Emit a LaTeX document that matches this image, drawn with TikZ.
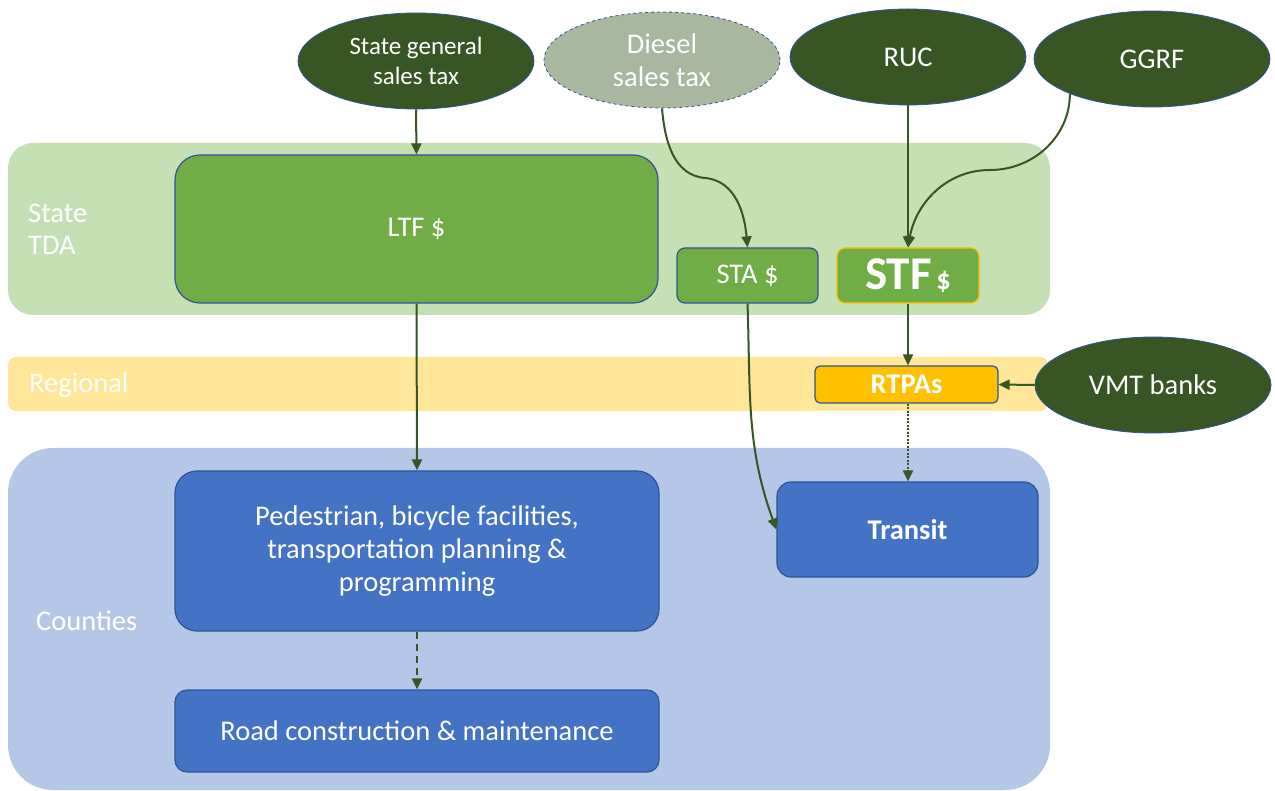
\documentclass[tikz,border=0pt]{standalone}
\usepackage{fontspec}
\setmainfont{Carlito}
\usetikzlibrary{shapes.geometric,arrows.meta}
\definecolor{bandgreen}{HTML}{C5E0B4}
\definecolor{bandyellow}{HTML}{FFE699}
\definecolor{bandblue}{HTML}{B4C7E7}
\definecolor{boxgreen}{HTML}{70AD47}
\definecolor{boxblue}{HTML}{4472C4}
\definecolor{rtpa}{HTML}{FFC000}
\definecolor{dgreen}{HTML}{375623}
\definecolor{bord}{HTML}{2F5597}
\definecolor{diesel}{HTML}{A9B79F}
\tikzset{
  band/.style={fill=#1, draw=none},
  bandlbl/.style={text=white, anchor=west, align=left, inner sep=0pt, font=\fontsize{28.5}{32}\selectfont},
  box/.style={draw=bord, line width=1.2pt, text=white, align=center, inner sep=0pt, font=\fontsize{28.5}{33}\selectfont},
  src/.style={ellipse, fill=dgreen, draw=bord, line width=0.8pt, text=white, align=center, inner sep=0pt,
              minimum width=236pt, minimum height=96pt, font=\fontsize{28.5}{33}\selectfont},
  arr/.style={-{Triangle[length=11pt,width=10pt]}, draw=dgreen, line width=2pt},
}
\begin{document}
\begin{tikzpicture}[x=1pt,y=-1pt]
\useasboundingbox (0,0) rectangle (1275,791);
% bands
\path[band=bandgreen, rounded corners=25pt] (8,143) rectangle (1050,315);
\path[band=bandyellow, rounded corners=8pt] (8,357) rectangle (1048,411);
\path[band=bandblue, rounded corners=45pt] (8,448) rectangle (1050,790);
\node[bandlbl] (lstate) at (28,229) {State\\TDA};
\node[bandlbl] (lreg) at (29,385) {Regional};
\node[bandlbl] (lcty) at (36,621) {Counties};
% boxes
\node[box, fill=boxgreen, rounded corners=25pt, minimum width=483pt, minimum height=148pt] (ltf) at (416.5,229) {LTF \$};
\node[box, fill=boxgreen, rounded corners=8pt, minimum width=141pt, minimum height=55pt] (sta) at (747.5,275.5) {STA \$};
\node[box, fill=boxgreen, draw=rtpa, rounded corners=8pt, minimum width=142pt, minimum height=55pt] (stf) at (908,275.5) {\textbf{\fontsize{47}{50}\selectfont STF}\,\textbf{\$}};
\node[box, fill=rtpa, rounded corners=5pt, minimum width=183pt, minimum height=37pt] (rtpas) at (906.5,384.5) {\textbf{RTPAs}};
\node[box, fill=boxblue, rounded corners=14pt, minimum width=261pt, minimum height=95pt] (transit) at (907.5,529.5) {\textbf{Transit}};
\node[box, fill=boxblue, rounded corners=22pt, minimum width=484pt, minimum height=160pt] (ped) at (417,551) {Pedestrian, bicycle facilities,\\transportation planning \&\\programming};
\node[box, fill=boxblue, rounded corners=12pt, minimum width=484pt, minimum height=82pt] (road) at (417,731) {Road construction \& maintenance};
% sources
\node[src, font=\fontsize{25}{30}\selectfont] (sgst) at (416,61) {State general\\sales tax};
\node[src, fill=diesel, dashed] (dst) at (662,60) {Diesel\\sales tax};
\node[src] (ruc) at (908,57) {RUC};
\node[src] (ggrf) at (1152,59) {GGRF};
\node[src] (vmt) at (1153,385) {VMT banks};
% connectors
\draw[arr] (sgst.south) -- (ltf.north);
\draw[arr] (ltf.south) -- (ped.north);
\draw[arr, dash pattern=on 7pt off 5pt] (ped.south) -- (road.north);
\draw[arr] (dst.south) to[out=-85,in=175] (705,178) to[out=-5,in=95] (sta.north);
\draw[arr] (ruc.south) -- (stf.north);
\draw[arr] (ggrf.-157) to[out=-90,in=0] (990,170) to[out=180,in=80] (stf.north);
\draw[arr] (sta.south) to[out=-88,in=110] (transit.west);
\draw[arr] (stf.south) -- (stf.south |- rtpas.north);
\draw[arr] (vmt.west) -- (rtpas.east);
\draw[arr, dash pattern=on 2pt off 1.5pt] (rtpas.south -| stf.south) -- (stf.south |- transit.north);
\end{tikzpicture}
\end{document}
